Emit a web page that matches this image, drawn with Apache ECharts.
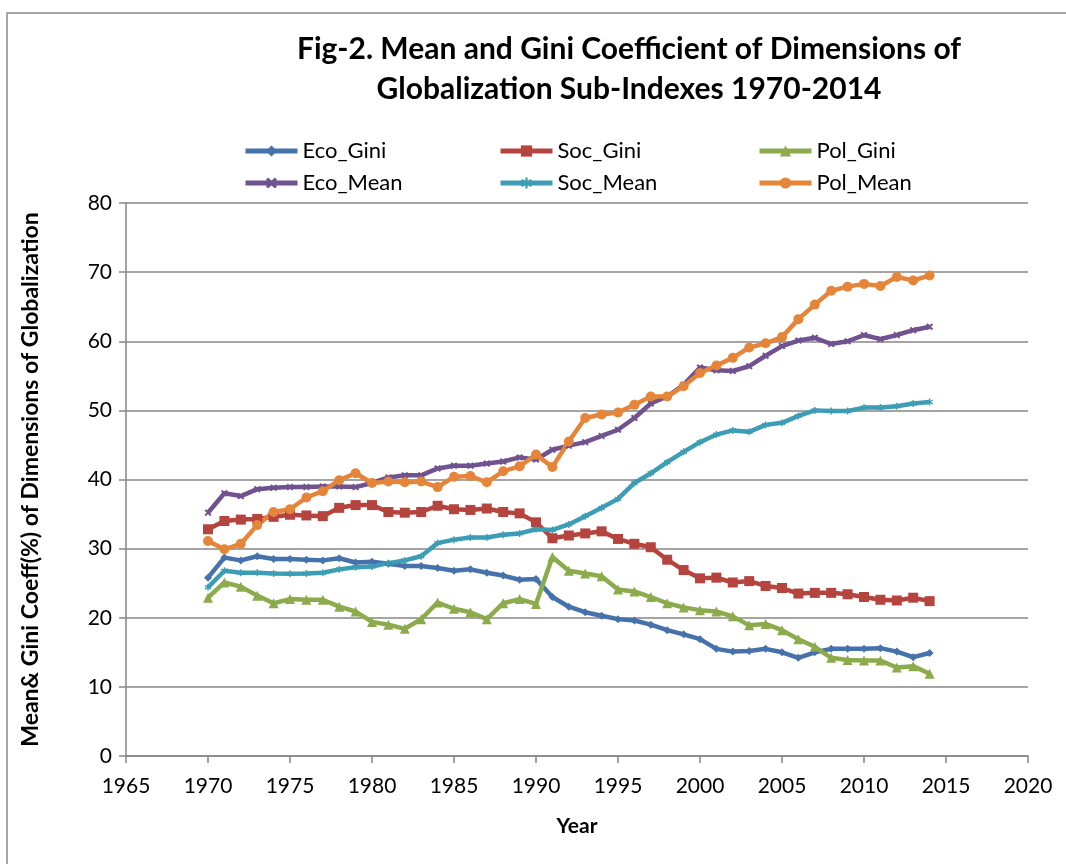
<!DOCTYPE html>
<html>
<head>
<meta charset="utf-8">
<script src="https://cdn.jsdelivr.net/npm/echarts@6/dist/echarts.min.js"></script>
<style>
    html, body { margin: 0; padding: 0; background: #fff; }
    #main { width: 1066px; height: 864px; }
</style>
</head>
<body>
<div id="main"></div>
<script>
// years on the x axis
var years = [
    1970, 1971, 1972, 1973, 1974, 1975, 1976, 1977, 1978, 1979,
    1980, 1981, 1982, 1983, 1984, 1985, 1986, 1987, 1988, 1989,
    1990, 1991, 1992, 1993, 1994, 1995, 1996, 1997, 1998, 1999,
    2000, 2001, 2002, 2003, 2004, 2005, 2006, 2007, 2008, 2009,
    2010, 2011, 2012, 2013, 2014
];

var ecoGini = [
    25.8, 28.7, 28.3, 28.9, 28.5, 28.5, 28.4, 28.3, 28.6, 28.0,
    28.1, 27.8, 27.5, 27.5, 27.2, 26.8, 27.0, 26.5, 26.1, 25.5,
    25.6, 23.0, 21.6, 20.8, 20.3, 19.8, 19.6, 19.0, 18.2, 17.6,
    16.9, 15.5, 15.1, 15.2, 15.5, 15.0, 14.2, 15.0, 15.5, 15.5,
    15.5, 15.6, 15.1, 14.3, 14.9
];
var socGini = [
    32.8, 34.0, 34.2, 34.3, 34.6, 34.9, 34.8, 34.7, 35.9, 36.3,
    36.3, 35.3, 35.2, 35.3, 36.2, 35.7, 35.6, 35.8, 35.3, 35.1,
    33.8, 31.5, 31.9, 32.2, 32.5, 31.4, 30.7, 30.2, 28.4, 26.9,
    25.7, 25.8, 25.1, 25.3, 24.6, 24.3, 23.5, 23.6, 23.6, 23.4,
    23.0, 22.6, 22.5, 22.9, 22.4
];
var polGini = [
    22.9, 25.1, 24.5, 23.2, 22.1, 22.7, 22.6, 22.6, 21.6, 20.9,
    19.4, 19.0, 18.4, 19.8, 22.2, 21.3, 20.8, 19.8, 22.1, 22.7,
    22.0, 28.8, 26.8, 26.4, 26.0, 24.1, 23.8, 23.0, 22.1, 21.5,
    21.1, 20.9, 20.2, 18.9, 19.1, 18.2, 16.9, 15.8, 14.2, 13.9,
    13.8, 13.8, 12.8, 13.0, 11.9
];
var ecoMean = [
    35.2, 38.0, 37.6, 38.6, 38.8, 38.9, 38.9, 39.0, 39.0, 38.9,
    39.5, 40.3, 40.6, 40.6, 41.6, 42.0, 42.0, 42.3, 42.6, 43.2,
    42.9, 44.3, 44.9, 45.4, 46.3, 47.2, 48.9, 51.0, 52.0, 53.7,
    56.2, 55.8, 55.7, 56.4, 57.9, 59.3, 60.1, 60.5, 59.6, 60.0,
    60.9, 60.3, 60.9, 61.6, 62.1
];
var socMean = [
    24.4, 26.8, 26.5, 26.5, 26.4, 26.35, 26.4, 26.5, 27.0, 27.3,
    27.4, 27.9, 28.3, 28.9, 30.8, 31.3, 31.6, 31.6, 32.0, 32.2,
    32.8, 32.7, 33.5, 34.7, 35.9, 37.2, 39.5, 40.9, 42.5, 44.0,
    45.4, 46.5, 47.1, 46.9, 47.9, 48.2, 49.2, 50.0, 49.9, 49.9,
    50.4, 50.4, 50.6, 51.0, 51.2
];
var polMean = [
    31.1, 29.9, 30.7, 33.4, 35.3, 35.7, 37.4, 38.3, 39.9, 40.9,
    39.5, 39.7, 39.6, 39.7, 38.9, 40.4, 40.5, 39.6, 41.2, 41.9,
    43.6, 41.8, 45.5, 48.9, 49.4, 49.7, 50.8, 52.0, 52.0, 53.5,
    55.4, 56.5, 57.6, 59.1, 59.7, 60.6, 63.2, 65.3, 67.3, 67.9,
    68.3, 68.0, 69.3, 68.8, 69.5
];

var FONT = 'Lato';
var xMark = 'path://M0,2L2,0L5,3L8,0L10,2L7,5L10,8L8,10L5,7L2,10L0,8L3,5Z';
var starMark = 'path://M4,0L6,0L6,3.3L9,1.5L10,3.2L7,5L10,6.8L9,8.5L6,6.7L6,10L4,10L4,6.7L1,8.5L0,6.8L3,5L0,3.2L1,1.5L4,3.3Z';

function pairs(vals) {
    var out = [];
    for (var i = 0; i < years.length; i++) {
        out.push([years[i], vals[i]]);
    }
    return out;
}

function makeSeries(name, vals, color, symbol, size) {
    return {
        name: name,
        type: 'line',
        data: pairs(vals),
        symbol: symbol,
        symbolSize: size,
        showAllSymbol: true,
        lineStyle: { width: 4.5, color: color },
        itemStyle: { color: color },
        emphasis: { disabled: true }
    };
}

function legendAt(name, left, top) {
    return {
        data: [name],
        left: left,
        top: top,
        itemWidth: 52,
        itemHeight: 14,
        itemGap: 0,
        lineStyle: { width: 5 },
        textStyle: { fontFamily: FONT, fontSize: 22, color: '#000' }
    };
}

var myChart = echarts.init(document.getElementById('main'));

var option = {
    backgroundColor: '#fff',
    animation: false,
    title: {
        text: 'Fig-2. Mean and Gini Coefficient of Dimensions of\nGlobalization Sub-Indexes 1970-2014',
        left: 624,
        top: 24,
        textAlign: 'center',
        textStyle: {
            fontFamily: FONT,
            fontWeight: 'bold',
            fontSize: 30,
            lineHeight: 40,
            color: '#000'
        }
    },
    legend: [
        legendAt('Eco_Gini', 238, 135),
        legendAt('Soc_Gini', 493, 135),
        legendAt('Pol_Gini', 752, 135),
        legendAt('Eco_Mean', 238, 167),
        legendAt('Soc_Mean', 493, 167),
        legendAt('Pol_Mean', 752, 167)
    ],
    graphic: [{
        type: 'rect',
        shape: { x: 7, y: 13, width: 1100, height: 900 },
        style: { fill: 'none', stroke: '#8a8a8a', lineWidth: 1.5 },
        silent: true
    }],
    grid: {
        left: 126,
        right: 38,
        top: 203,
        bottom: 108
    },
    xAxis: {
        type: 'value',
        min: 1965,
        max: 2020,
        interval: 5,
        name: 'Year',
        nameLocation: 'middle',
        nameGap: 60,
        nameTextStyle: { fontFamily: FONT, fontWeight: 'bold', fontSize: 21, color: '#000' },
        axisLine: { lineStyle: { color: '#868686', width: 1.5 } },
        axisTick: { show: true, length: 7, lineStyle: { color: '#868686', width: 1.5 } },
        axisLabel: {
            fontFamily: FONT, fontSize: 21, color: '#000', margin: 20,
            formatter: function (v) { return String(v); }
        },
        splitLine: { show: false }
    },
    yAxis: {
        type: 'value',
        min: 0,
        max: 80,
        interval: 10,
        name: 'Mean& Gini Coeff(%) of Dimensions of Globalization',
        nameLocation: 'middle',
        nameGap: 84,
        nameTextStyle: { fontFamily: FONT, fontWeight: 'bold', fontSize: 23, color: '#000' },
        axisLine: { show: true, lineStyle: { color: '#868686', width: 1.5 } },
        axisTick: { show: true, length: 7, lineStyle: { color: '#868686', width: 1.5 } },
        axisLabel: { fontFamily: FONT, fontSize: 21, color: '#000', margin: 14 },
        splitLine: { show: true, lineStyle: { color: '#868686', width: 1.5 } }
    },
    series: [
        makeSeries('Eco_Gini', ecoGini, '#4672ab', 'diamond', 8),
        makeSeries('Soc_Gini', socGini, '#b5443f', 'rect', 10),
        makeSeries('Pol_Gini', polGini, '#8cab4c', 'triangle', 10),
        makeSeries('Eco_Mean', ecoMean, '#6f528f', xMark, 7),
        makeSeries('Soc_Mean', socMean, '#3c9db5', starMark, 7),
        makeSeries('Pol_Mean', polMean, '#e5853a', 'circle', 10)
    ]
};

myChart.setOption(option);
</script>
</body>
</html>
